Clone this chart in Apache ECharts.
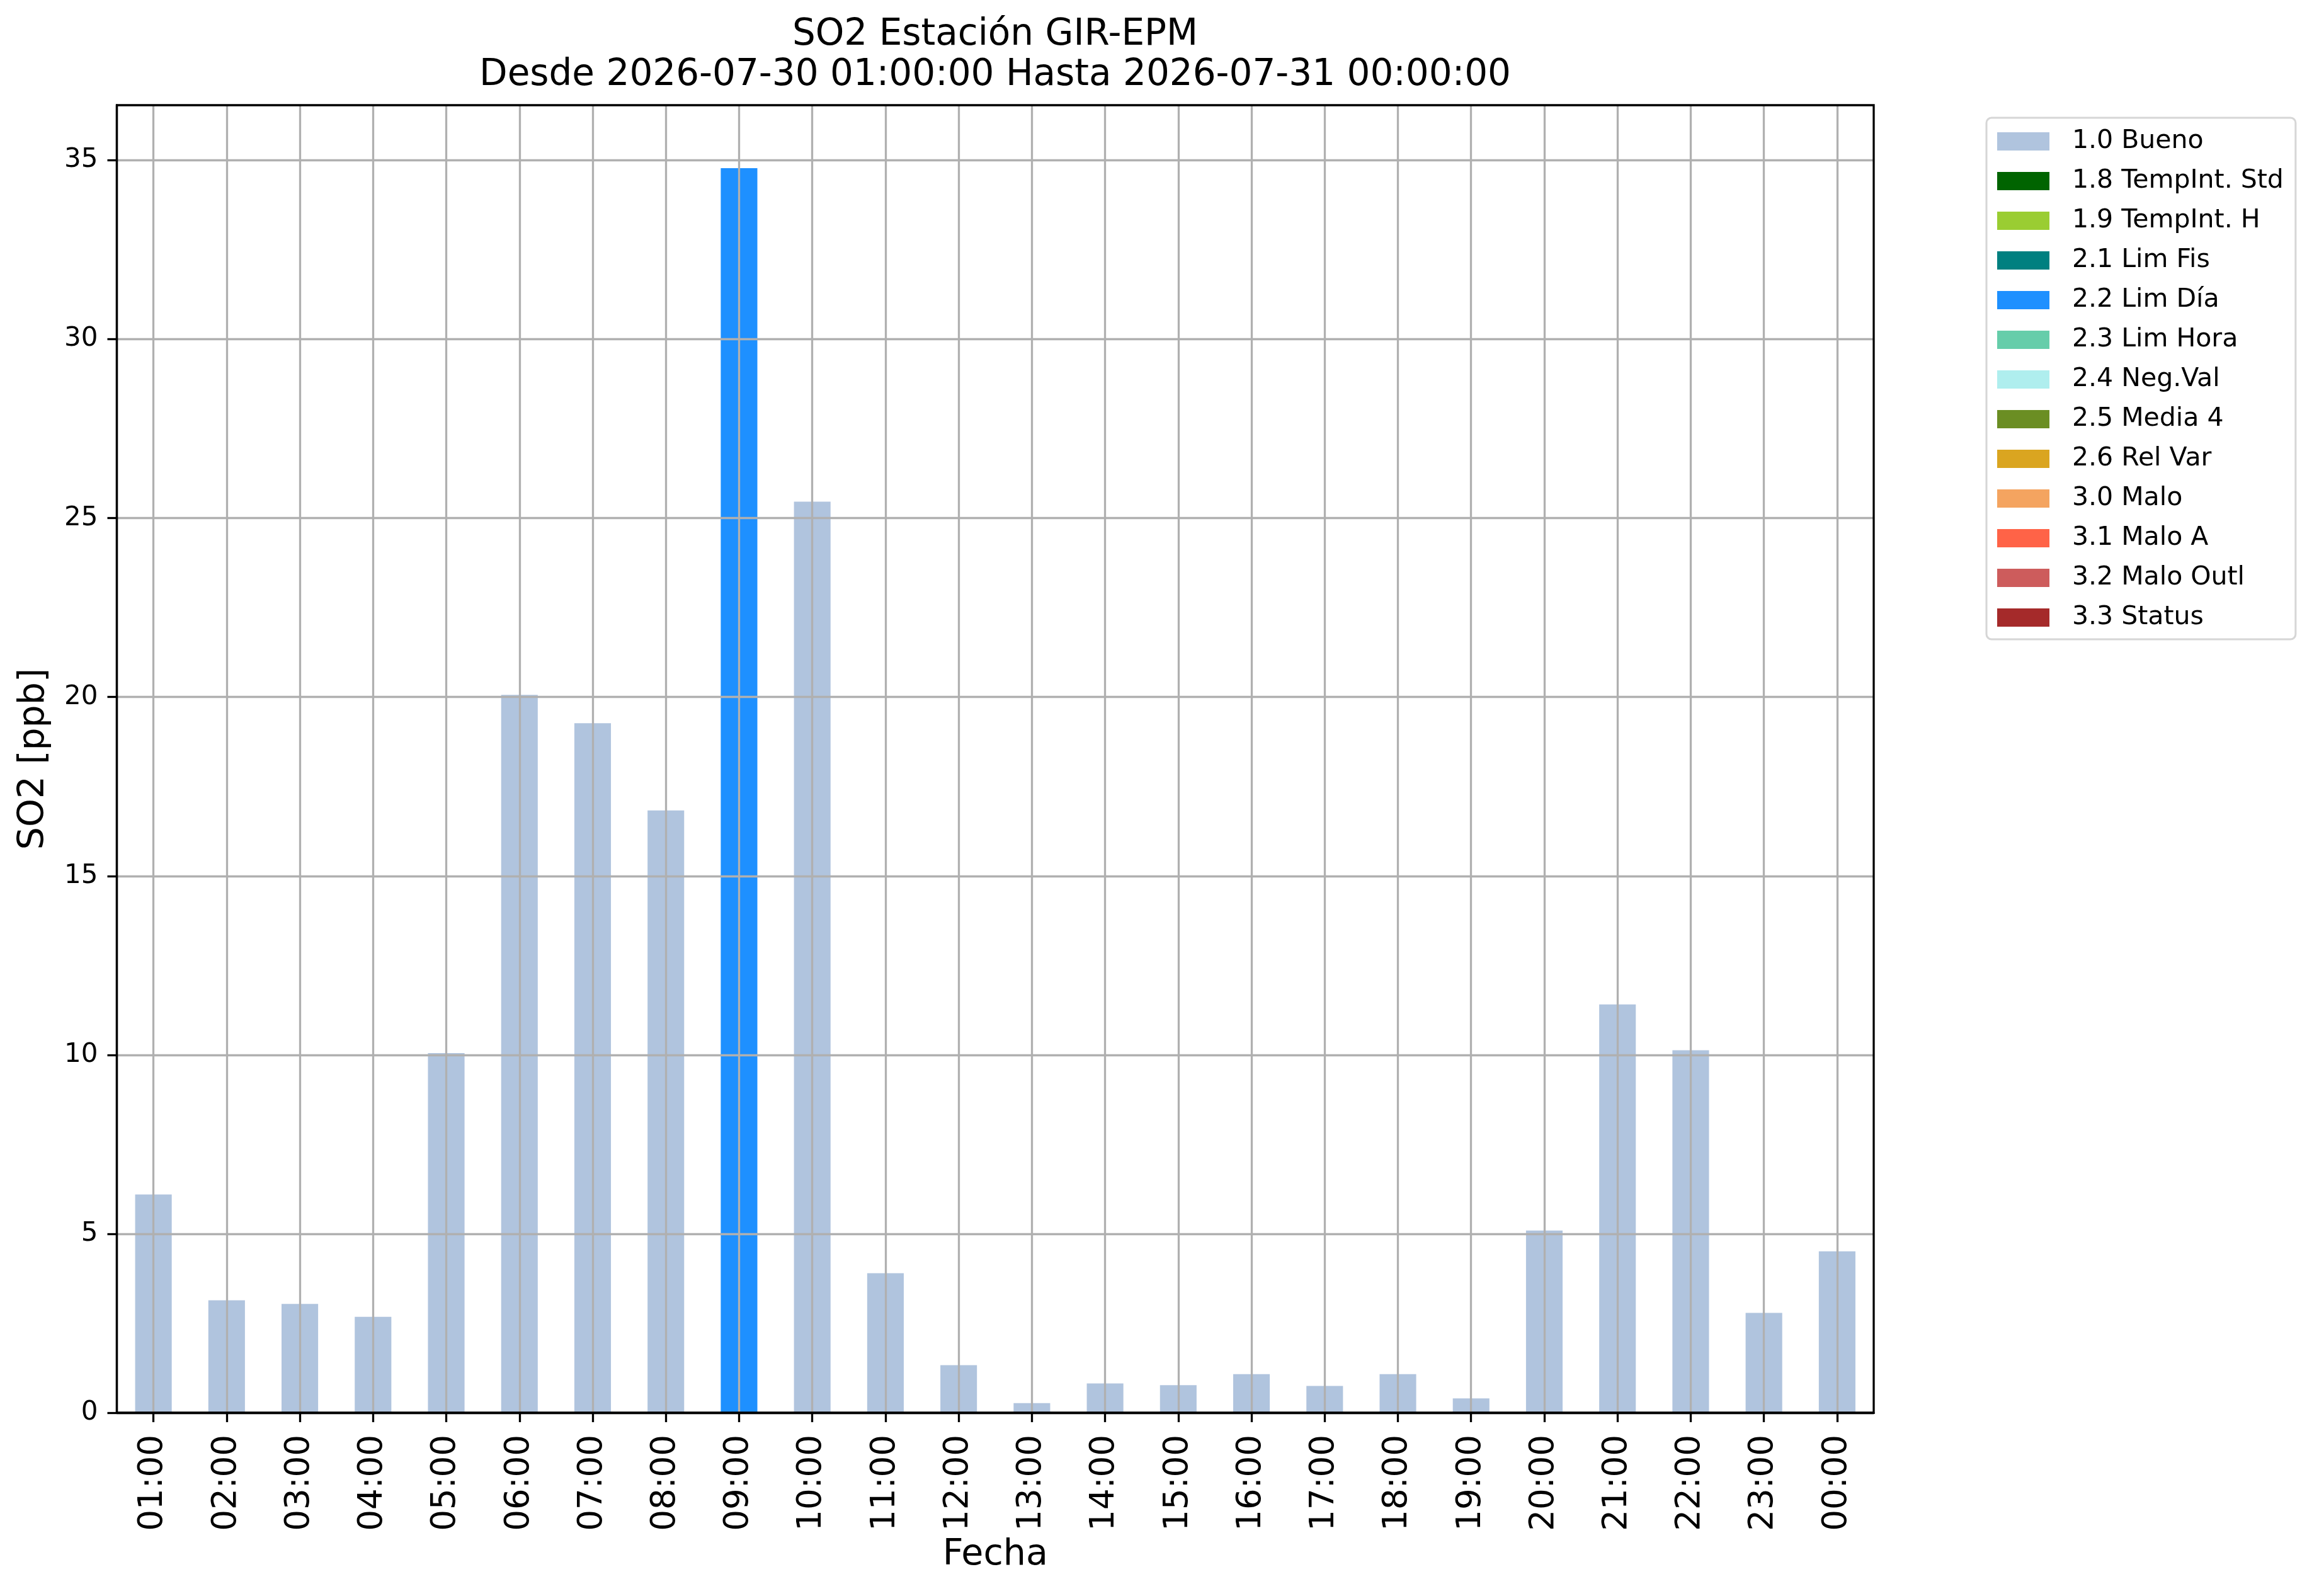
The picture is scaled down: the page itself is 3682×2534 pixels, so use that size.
<!DOCTYPE html>
<html>
<head>
<meta charset="utf-8">
<script src="https://cdn.jsdelivr.net/npm/echarts@6/dist/echarts.min.js"></script>
<style>
html,body{margin:0;padding:0;background:#fff;}
#chart{width:3682px;height:2534px;}
</style>
</head>
<body>
<div id="chart"></div>
<script>
const categories = ['01:00','02:00','03:00','04:00','05:00','06:00','07:00','08:00','09:00','10:00','11:00','12:00','13:00','14:00','15:00','16:00','17:00','18:00','19:00','20:00','21:00','22:00','23:00','00:00'];
const buenoValues = [6.1,3.14,3.04,2.68,10.05,20.06,19.27,16.83,null,25.46,3.9,1.33,0.27,0.82,0.77,1.08,0.75,1.08,0.4,5.09,11.41,10.13,2.79,4.51];
const limDiaValues = [null,null,null,null,null,null,null,null,34.78,null,null,null,null,null,null,null,null,null,null,null,null,null,null,null];
const flagNames = ['1.0 Bueno','1.8 TempInt. Std','1.9 TempInt. H','2.1 Lim Fis','2.2 Lim Día','2.3 Lim Hora','2.4 Neg.Val','2.5 Media 4','2.6 Rel Var','3.0 Malo','3.1 Malo A','3.2 Malo Outl','3.3 Status'];
const flagColors = ['#B0C4DE','#006400','#9ACD32','#008080','#1E90FF','#66CDAA','#AFEEEE','#6B8E23','#DAA520','#F4A460','#FF6347','#CD5C5C','#A52A2A'];
const yTicks = [0,5,10,15,20,25,30,35];
const yMax = 36.54;
const titleText = 'SO2 Estación GIR-EPM\nDesde 2026-07-30 01:00:00 Hasta 2026-07-31 00:00:00';

const emptyValues = categories.map(() => null);
const seriesData = flagNames.map((n, i) => i === 0 ? buenoValues : (i === 4 ? limDiaValues : emptyValues));

const FONT = 'DejaVu Sans';
const chart = echarts.init(document.getElementById('chart'), null, {renderer: 'canvas'});

const series = flagNames.map((name, i) => ({
  name: name,
  type: 'bar',
  stack: 'total',
  barWidth: '50%',
  z: 1,
  itemStyle: {color: flagColors[i]},
  data: seriesData[i],
  animation: false
}));

chart.setOption({
  animation: false,
  backgroundColor: '#ffffff',
  title: {
    text: titleText,
    left: 1580,
    top: 24,
    textAlign: 'center',
    padding: 0,
    textStyle: {fontFamily: FONT, fontSize: 58, fontWeight: 'normal', color: '#000', lineHeight: 64}
  },
  legend: {
    orient: 'vertical',
    left: 3154,
    top: 187,
    padding: [17, 19, 14, 17],
    itemWidth: 83,
    itemHeight: 29,
    itemGap: 22,
    icon: 'rect',
    backgroundColor: '#ffffff',
    borderColor: '#d6d6d6',
    borderWidth: 3,
    borderRadius: 8,
    data: flagNames,
    textStyle: {fontFamily: FONT, fontSize: 41, color: '#000', lineHeight: 41, padding: [0, 0, 0, 31]}
  },
  grid: {
    left: 185.5,
    right: 707,
    top: 167,
    bottom: 291,
    show: true,
    borderColor: '#000',
    borderWidth: 3.3,
    backgroundColor: 'transparent',
    z: 5
  },
  xAxis: {
    type: 'category',
    data: categories,
    boundaryGap: true,
    z: 4,
    name: 'Fecha',
    nameLocation: 'middle',
    nameGap: 198,
    nameTextStyle: {fontFamily: FONT, fontSize: 57, color: '#000'},
    axisLine: {show: true, lineStyle: {color: '#000', width: 3.3}},
    axisTick: {show: true, alignWithLabel: true, length: 15, lineStyle: {color: '#000', width: 3.3}},
    axisLabel: {rotate: 90, interval: 0, margin: 35, fontFamily: FONT, fontSize: 53, color: '#000'},
    splitLine: {show: true, alignWithLabel: true, interval: 0, lineStyle: {color: '#b0b0b0', width: 3.3}}
  },
  yAxis: {
    type: 'value',
    min: 0,
    max: yMax,
    interval: 5,
    z: 4,
    name: 'SO2 [ppb]',
    nameLocation: 'middle',
    nameGap: 103,
    nameTextStyle: {fontFamily: FONT, fontSize: 57, color: '#000'},
    axisLine: {show: true, lineStyle: {color: '#000', width: 3.3}},
    axisTick: {show: true, length: 15, customValues: yTicks, lineStyle: {color: '#000', width: 3.3}},
    axisLabel: {margin: 30, fontFamily: FONT, fontSize: 42, color: '#000', customValues: yTicks},
    splitLine: {show: true, lineStyle: {color: '#b0b0b0', width: 3.3}}
  },
  series: series
});
</script>
</body>
</html>
